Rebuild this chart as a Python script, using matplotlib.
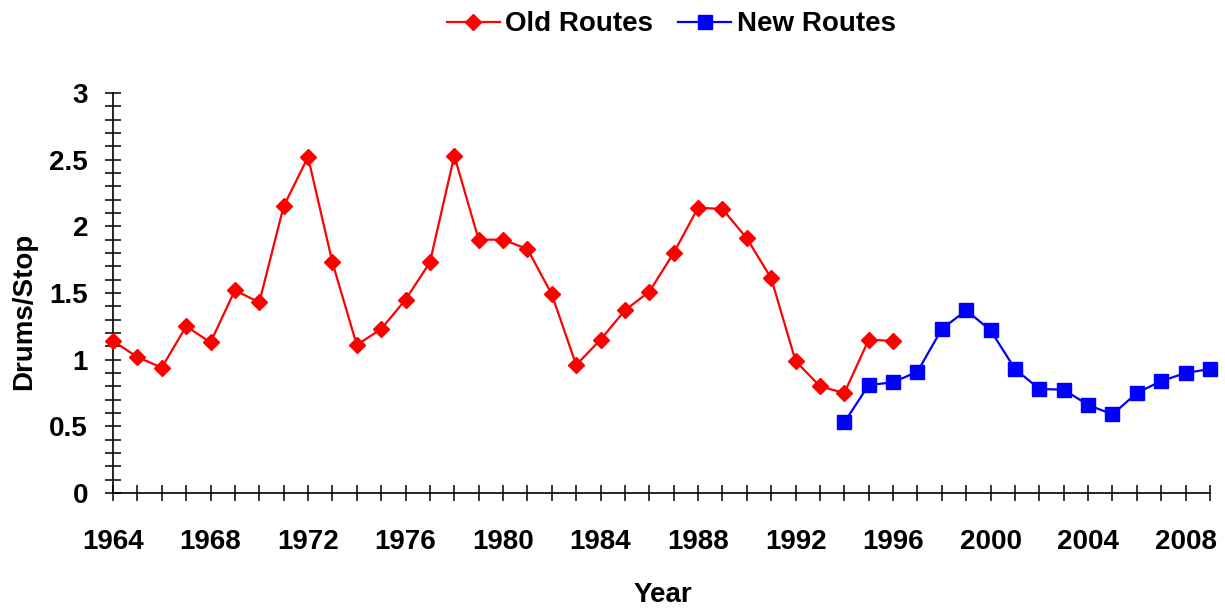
import numpy as np
import matplotlib.pyplot as plt
from matplotlib.ticker import MultipleLocator

plt.rcParams['font.family'] = ['Liberation Sans', 'DejaVu Sans']
plt.rcParams['font.weight'] = 'bold'

# Old routes survey, 1964-1996
old_years = list(range(1964, 1997))
old_values = [1.14, 1.02, 0.94, 1.25, 1.13, 1.52, 1.43, 2.15, 2.52, 1.73,
              1.11, 1.23, 1.45, 1.73, 2.53, 1.90, 1.90, 1.83, 1.49, 0.96,
              1.15, 1.37, 1.51, 1.80, 2.14, 2.13, 1.91, 1.61, 0.99, 0.80,
              0.75, 1.15, 1.14]

# New routes survey, 1994-2009
new_years = list(range(1994, 2010))
new_values = [0.53, 0.81, 0.83, 0.91, 1.23, 1.37, 1.22, 0.93, 0.78, 0.775,
              0.66, 0.59, 0.75, 0.84, 0.90, 0.93]

x_labels = list(range(1964, 2009, 4))
y_ticks = [0, 0.5, 1, 1.5, 2, 2.5, 3]
y_labels = ['0', '0.5', '1', '1.5', '2', '2.5', '3']

fig = plt.figure(figsize=(12.25, 6.14), dpi=100)
ax = fig.add_axes([113 / 1225, 121 / 614, 1097 / 1225, 400 / 614])

ax.plot(old_years, old_values, color='#ff0000', lw=1.6, marker='D', ms=8,
        label='Old Routes', clip_on=False, zorder=3)
ax.plot(new_years, new_values, color='#0000ff', lw=1.6, marker='s', ms=10.5,
        label='New Routes', clip_on=False, zorder=3)

ax.set_xlim(1964, 2009)
ax.set_ylim(0, 3)
ax.set_xticks(x_labels)
ax.xaxis.set_minor_locator(MultipleLocator(1))
ax.set_yticks(y_ticks, y_labels)
ax.yaxis.set_minor_locator(MultipleLocator(0.1))

for s in ['top', 'right']:
    ax.spines[s].set_visible(False)
for s in ['left', 'bottom']:
    ax.spines[s].set_linewidth(1.2)

ax.tick_params(axis='both', which='both', direction='inout', length=12,
               width=1.1, labelsize=20)
ax.tick_params(axis='x', which='both', pad=20)
ax.tick_params(axis='y', which='both', pad=12)

ax.set_xlabel('Year', fontsize=20, fontweight='bold')
ax.set_ylabel('Drums/Stop', fontsize=20, fontweight='bold')
ax.xaxis.set_label_coords(0.501, -0.222)
ax.yaxis.set_label_coords(-0.069, 0.455)

fig.legend(loc='upper center', bbox_to_anchor=(0.548, 1.022), ncol=2,
           frameon=False, fontsize=20, markerscale=1.0, handlelength=1.9,
           columnspacing=0.9, handletextpad=0.2)

fig.savefig('out.png', dpi=100)
